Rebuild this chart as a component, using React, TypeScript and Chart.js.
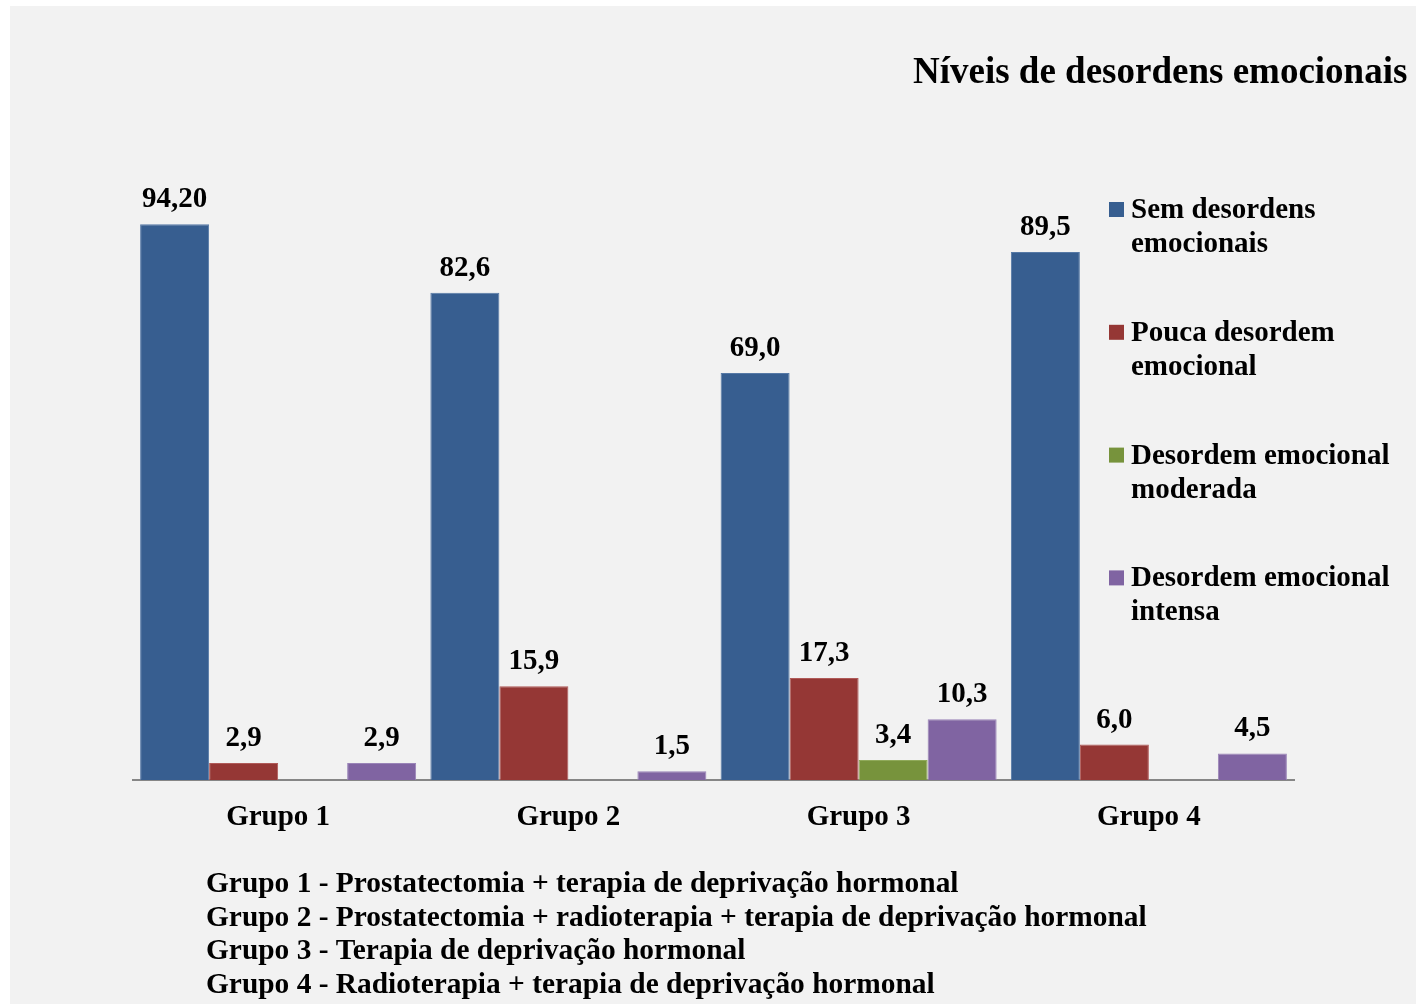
import React, { useEffect, useRef } from "react";
import { Chart, registerables } from "chart.js";

Chart.register(...registerables);

const categories = ["Grupo 1", "Grupo 2", "Grupo 3", "Grupo 4"];

const seriesNames = [
  ["Sem desordens", "emocionais"],
  ["Pouca desordem", "emocional"],
  ["Desordem emocional", "moderada"],
  ["Desordem emocional", "intensa"],
];

const semDesordens = [94.2, 82.6, 69.0, 89.5];
const poucaDesordem = [2.9, 15.9, 17.3, 6.0];
const desordemModerada = [0, 0, 3.4, 0];
const desordemIntensa = [2.9, 1.5, 10.3, 4.5];

const semDesordensLabels = ["94,20", "82,6", "69,0", "89,5"];
const poucaDesordemLabels = ["2,9", "15,9", "17,3", "6,0"];
const desordemModeradaLabels = ["", "", "3,4", ""];
const desordemIntensaLabels = ["2,9", "1,5", "10,3", "4,5"];

const seriesColors = ["#375E90", "#953735", "#77933C", "#8064A2"];
const seriesBorders = ["#5679a6", "#b05a58", "#90aa5a", "#9a84b8"];

const titleText = "Níveis de desordens emocionais";

const footnotes = [
  "Grupo 1 - Prostatectomia + terapia de deprivação hormonal",
  "Grupo 2 - Prostatectomia + radioterapia + terapia de deprivação hormonal",
  "Grupo 3 - Terapia de deprivação hormonal",
  "Grupo 4 - Radioterapia + terapia de deprivação hormonal",
];

const FONT = "'Liberation Serif', 'Times New Roman', serif";

export default function App() {
  const ref = useRef<HTMLCanvasElement | null>(null);

  useEffect(() => {
    document.body.style.margin = "0";
    const canvas = ref.current;
    if (!canvas) return;

    const allValues = [semDesordens, poucaDesordem, desordemModerada, desordemIntensa];
    const allLabels = [semDesordensLabels, poucaDesordemLabels, desordemModeradaLabels, desordemIntensaLabels];

    const decorPlugin = {
      id: "decor",
      beforeDraw(chart: any) {
        const ctx = chart.ctx;
        ctx.save();
        ctx.fillStyle = "#ffffff";
        ctx.fillRect(0, 0, chart.width, chart.height);
        ctx.fillStyle = "#f2f2f2";
        ctx.fillRect(10, 6, chart.width - 10, 998);
        ctx.restore();
      },
      afterDraw(chart: any) {
        const ctx = chart.ctx;
        ctx.save();
        ctx.fillStyle = "#000000";
        ctx.textBaseline = "alphabetic";

        // data labels
        ctx.font = `bold 29px ${FONT}`;
        ctx.textAlign = "center";
        chart.data.datasets.forEach((ds: any, di: number) => {
          const meta = chart.getDatasetMeta(di);
          meta.data.forEach((el: any, i: number) => {
            const txt = allLabels[di][i];
            if (!txt) return;
            ctx.fillText(txt, el.x, el.y - 17);
          });
        });

        // title
        ctx.textAlign = "left";
        ctx.font = `bold 37px ${FONT}`;
        ctx.fillText(titleText, 913, 83);

        // legend
        ctx.font = `bold 29px ${FONT}`;
        chart.data.datasets.forEach((ds: any, di: number) => {
          const base = 218 + di * 122.8;
          ctx.fillStyle = seriesColors[di];
          ctx.fillRect(1109, base - 16, 15, 15);
          ctx.fillStyle = "#000000";
          seriesNames[di].forEach((line, li) => {
            ctx.fillText(line, 1131, base + li * 34);
          });
        });

        // footnotes
        ctx.font = `bold 29.4px ${FONT}`;
        footnotes.forEach((line, i) => {
          ctx.fillText(line, 206, 892 + i * 33.7);
        });
        ctx.restore();
      },
    };

    const chart = new Chart(canvas, {
      type: "bar",
      data: {
        labels: categories,
        datasets: allValues.map((vals, i) => ({
          label: seriesNames[i].join(" "),
          data: vals,
          backgroundColor: seriesColors[i],
          borderColor: seriesBorders[i],
          borderWidth: 1,
          categoryPercentage: 0.951,
          barPercentage: 1.0,
        })),
      },
      options: {
        animation: false,
        responsive: false,
        devicePixelRatio: 1,
        layout: { padding: { left: 133, right: 122, top: 190, bottom: 165 } },
        plugins: {
          legend: { display: false },
          title: { display: false },
          tooltip: { enabled: false },
        },
        scales: {
          x: {
            grid: { display: false, drawTicks: false },
            border: { display: true, color: "#868686", width: 2 },
            ticks: {
              color: "#000000",
              padding: 20,
              font: { family: FONT, size: 29, weight: "bold" },
            },
            afterFit: (scale: any) => {
              scale.height = 60;
            },
          },
          y: {
            display: false,
            min: 0,
            max: 100,
          },
        },
      },
      plugins: [decorPlugin],
    } as any);

    return () => chart.destroy();
  }, []);

  return <canvas ref={ref} width={1416} height={1005} style={{ display: "block" }} />;
}
